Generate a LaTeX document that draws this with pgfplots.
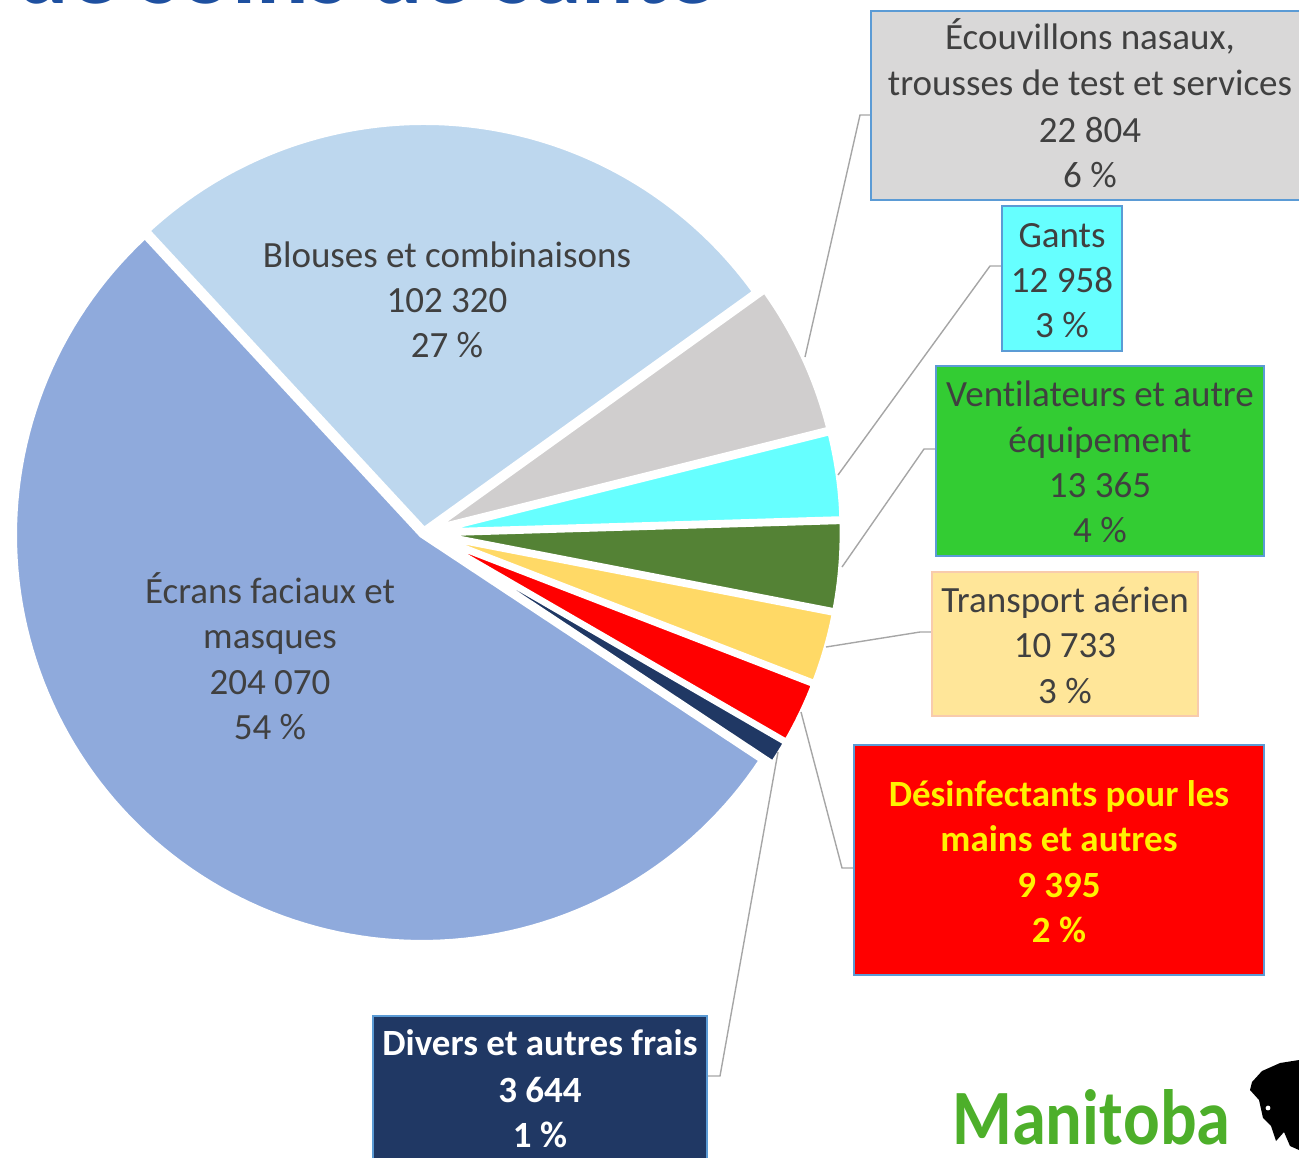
\documentclass[border=0pt]{standalone}
\usepackage{pgfplots}
\pgfplotsset{compat=1.18}
\usepackage{pgfplotstable}
\usepackage{fontspec}
\setmainfont{Carlito}[Ligatures=NoCommon]
\usepackage{graphicx}

\definecolor{Ecrans}{HTML}{8FAADC}
\definecolor{Blouses}{HTML}{BDD7EE}
\definecolor{Ecouvillons}{HTML}{D0CECE}
\definecolor{Gants}{HTML}{66FFFF}
\definecolor{Ventilateurs}{HTML}{548235}
\definecolor{Transport}{HTML}{FFD966}
\definecolor{Desinfectants}{HTML}{FF0000}
\definecolor{Divers}{HTML}{203864}
\definecolor{txt}{HTML}{404040}
\definecolor{boxblue}{HTML}{5B9BD5}
\definecolor{leader}{HTML}{A6A6A6}
\definecolor{titleblue}{HTML}{1E50A0}
\definecolor{mbgreen}{HTML}{4DAF2A}

% clockwise order, starting at the upper-left boundary
\pgfplotstableread{
name value explode
Blouses 102320 3
Ecouvillons 22804 11
Gants 12958 11
Ventilateurs 13365 11
Transport 10733 11
Desinfectants 9395 11
Divers 3644 11
Ecrans 204070 3
}\piedata
\def\pietotal{0}
\pgfplotstableforeachcolumnelement{value}\of\piedata\as\v{\xdef\pietotal{\fpeval{\pietotal+\v}}}
\xdef\pieang{132.8}
\def\cx{423.8}\def\cy{532.8}\def\R{407.6}

\newcommand\lbl[4][txt]{\node[anchor=base, text=#1, inner sep=0pt] at (axis cs:#2,#3) {#4};}

\begin{document}%
\begin{tikzpicture}
\begin{axis}[
  scale only axis, width=649.5pt, height=578.5pt,
  xmin=0, xmax=1299, ymin=0, ymax=1157, y dir=reverse,
  hide axis, clip=false,
  font=\fontsize{18.5}{22.75}\selectfont,
]
\coordinate (BL) at (axis cs:0,1157);
\coordinate (TR) at (axis cs:1299,0);

\pgfplotsforeachungrouped \i in {0,...,7}{%
  \pgfplotstablegetelem{\i}{name}\of\piedata \let\nm\pgfplotsretval
  \pgfplotstablegetelem{\i}{value}\of\piedata \let\val\pgfplotsretval
  \pgfplotstablegetelem{\i}{explode}\of\piedata \let\ex\pgfplotsretval
  \edef\sa{\fpeval{round(\pieang,4)}}%
  \edef\ea{\fpeval{round(\pieang - 360*\val/\pietotal,4)}}%
  \xdef\pieang{\ea}%
  \edef\ma{\fpeval{(\sa+\ea)/2}}%
  \edef\vx{\fpeval{round(\cx + \ex*cosd(\ma),3)}}%
  \edef\vy{\fpeval{round(\cy - \ex*sind(\ma),3)}}%
  \edef\cmd{\noexpand\addplot[fill=\nm, draw=white, line width=2.75pt, line join=round, mark=none, domain=\ea:\sa, samples=120, variable=\noexpand\t] ({\vx+\R*cos(\noexpand\t)},{\vy-\R*sin(\noexpand\t)}) -- (axis cs:\vx,\vy) -- cycle;}%
  \cmd
}

% title remnant
\node[anchor=base west, text=titleblue, inner sep=0pt, font=\fontsize{49}{55}\selectfont\bfseries] at (axis cs:16,3) {de soins de santé};

% labels inside slices
\lbl{447}{267}{Blouses et combinaisons}
\lbl{447}{312}{102 320}
\lbl{447}{357}{27 \%}
\lbl{270}{603}{Écrans faciaux et}
\lbl{270}{648}{masques}
\lbl{270}{694}{204 070}
\lbl{270}{739}{54 \%}

% leader lines
\draw[leader, line width=0.7pt] (axis cs:805,357) -- (axis cs:860,115) -- (axis cs:871,115);
\draw[leader, line width=0.7pt] (axis cs:838,475) -- (axis cs:990,266) -- (axis cs:1002,266);
\draw[leader, line width=0.7pt] (axis cs:842,567) -- (axis cs:924,449) -- (axis cs:936,449);
\draw[leader, line width=0.7pt] (axis cs:826,647) -- (axis cs:920,632) -- (axis cs:932,632);
\draw[leader, line width=0.7pt] (axis cs:801,712) -- (axis cs:842,868) -- (axis cs:854,868);
\draw[leader, line width=0.7pt] (axis cs:778,752) -- (axis cs:720,1076) -- (axis cs:707,1076);

% boxes
\filldraw[fill=Ecouvillons!80!white, draw=boxblue, line width=1pt] (axis cs:871,11) rectangle (axis cs:1310,200);
\filldraw[fill=Gants, draw=boxblue, line width=1pt] (axis cs:1002,206) rectangle (axis cs:1122,351);
\filldraw[fill={rgb,255:red,51;green,204;blue,51}, draw=boxblue, line width=1pt] (axis cs:936,366) rectangle (axis cs:1264,556);
\filldraw[fill={rgb,255:red,255;green,230;blue,153}, draw={rgb,255:red,248;green,203;blue,173}, line width=1pt] (axis cs:932,572) rectangle (axis cs:1198,716);
\filldraw[fill=Desinfectants, draw=boxblue, line width=1pt] (axis cs:854,745) rectangle (axis cs:1264,975);
\filldraw[fill=Divers, draw=boxblue, line width=1pt] (axis cs:373,1016) rectangle (axis cs:707,1170);

\lbl{1090}{49}{Écouvillons nasaux,}
\lbl{1090}{95}{trousses de test et services}
\lbl{1090}{142}{22 804}
\lbl{1090}{187}{6 \%}
\lbl{1062}{247}{Gants}
\lbl{1062}{292}{12 958}
\lbl{1062}{337}{3 \%}
\lbl{1100}{406}{Vent\kern0pt ilateurs et autre}
\lbl{1100}{452}{équipement}
\lbl{1100}{497}{13 365}
\lbl{1100}{542}{4 \%}
\lbl{1065}{612}{Transport aérien}
\lbl{1065}{657}{10 733}
\lbl{1065}{703}{3 \%}
\lbl[yellow]{1059}{806}{\bfseries Désinfectants pour les}
\lbl[yellow]{1059}{851}{\bfseries mains et autres}
\lbl[yellow]{1059}{897}{\bfseries 9 395}
\lbl[yellow]{1059}{942}{\bfseries 2 \%}
\lbl[white]{540}{1055}{\bfseries Divers et autres frais}
\lbl[white]{540}{1102}{\bfseries 3 644}
\lbl[white]{540}{1147}{\bfseries 1 \%}

% logo
\node[anchor=south west, inner sep=0pt, text=mbgreen] at (axis cs:952,1145) {\resizebox{139pt}{27.5pt}{\bfseries Manit\kern0pt oba}};
\fill[black] (axis cs:1252,1082) -- (axis cs:1262,1071) -- (axis cs:1280,1063) -- (axis cs:1299,1060) -- (axis cs:1299,1150) -- (axis cs:1290,1146) -- (axis cs:1284,1132) -- (axis cs:1276,1141) -- (axis cs:1271,1126) -- (axis cs:1263,1118) -- (axis cs:1259,1100) -- (axis cs:1250,1090) -- cycle;
\fill[white] (axis cs:1268,1108) circle[radius=1.2pt];
\end{axis}
\pgfresetboundingbox
\useasboundingbox (BL) rectangle (TR);
\end{tikzpicture}%
\end{document}
